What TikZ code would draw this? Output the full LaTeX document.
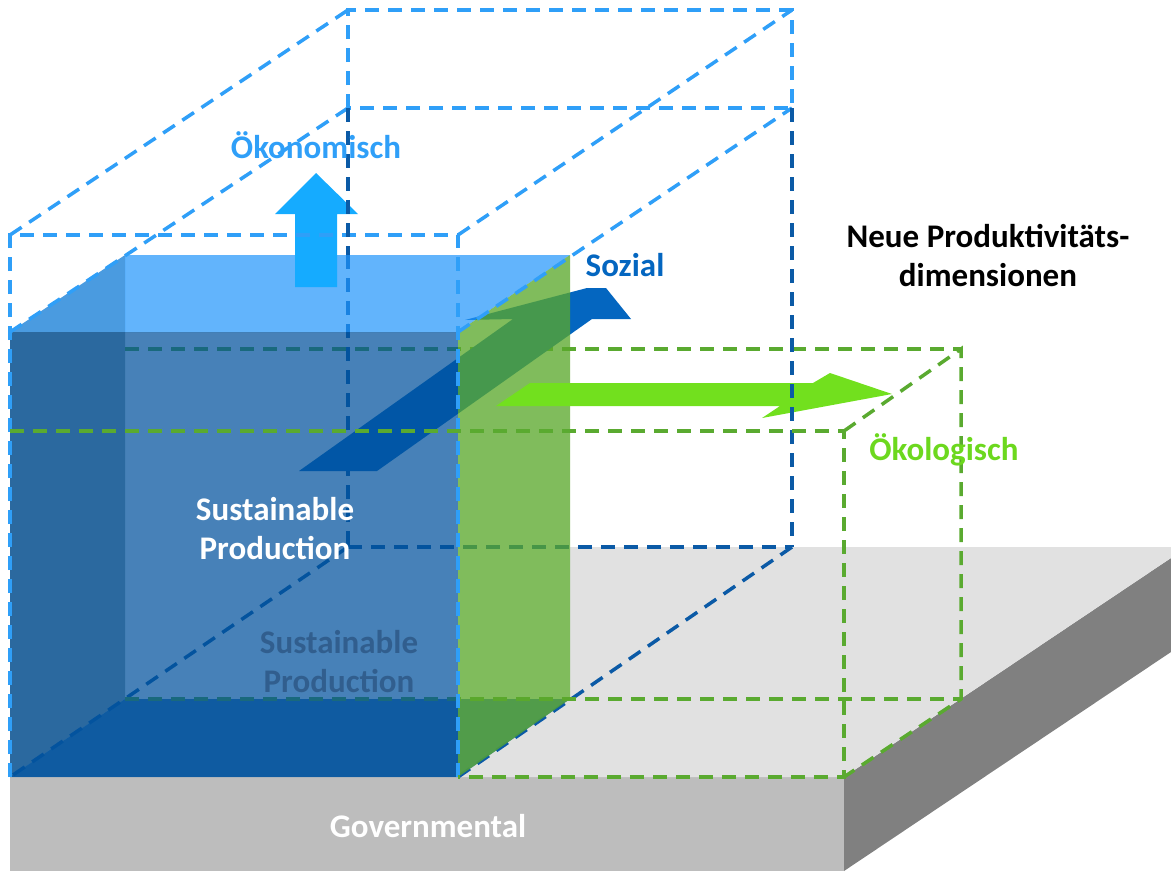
\documentclass[tikz,border=0pt]{standalone}
\usepackage{fontspec}
\setmainfont{Carlito}
\definecolor{econ}{HTML}{2F9FF8}
\definecolor{econ arrow}{HTML}{15ABFF}
\definecolor{social}{HTML}{0466C0}
\definecolor{social dash}{HTML}{0B5AA6}
\definecolor{eco}{HTML}{5AAA30}
\definecolor{eco arrow}{HTML}{72E01E}
\definecolor{eco text}{HTML}{6CD81E}
\definecolor{slab top}{HTML}{E1E1E1}
\definecolor{slab front}{HTML}{BDBDBD}
\definecolor{slab side}{HTML}{808080}
\tikzstyle{dim line}=[line width=3.5pt, dash pattern=on 14pt off 9pt]
\tikzstyle{econ line}=[dim line, draw=econ]
\tikzstyle{social line}=[dim line, draw=social dash]
\tikzstyle{eco line}=[dim line, draw=eco]
\tikzstyle{dim text}=[font=\fontsize{33}{39}\selectfont\bfseries, inner sep=0, anchor=base, align=center]

\begin{document}
\begin{tikzpicture}[x=1pt, y=-1pt]
  \useasboundingbox (0,0) rectangle (1171,871);

  % solid cube
  \coordinate (front_tl) at (10,332);
  \coordinate (front_tr) at (458,332);
  \coordinate (front_br) at (458,777);
  \coordinate (front_bl) at (10,777);
  \coordinate (back_tl) at (125,255);
  \coordinate (back_tr) at (570,255);
  \coordinate (back_br) at (570,699);
  \coordinate (back_bl) at (125,699);
  % dimension boxes
  \coordinate (econ_fl) at (10,235);
  \coordinate (econ_fr) at (458,235);
  \coordinate (econ_bl) at (348,10);
  \coordinate (econ_br) at (792,10);
  \coordinate (social_tl) at (348,108);
  \coordinate (social_tr) at (792,108);
  \coordinate (social_bl) at (348,547);
  \coordinate (social_br) at (792,547);
  \coordinate (social_cut) at (348,255);
  \coordinate (eco_fl) at (10,431);
  \coordinate (eco_fr) at (844,431);
  \coordinate (eco_fb) at (844,777);
  \coordinate (eco_bl) at (125,349);
  \coordinate (eco_br) at (961,349);
  \coordinate (eco_bb) at (961,699);

  % ground slab
  \fill[slab front] (front_bl) -- (eco_fb) -- (844,871) -- (10,871) -- cycle;
  \fill[slab side] (eco_fb) -- (1171,558) -- (1171,652) -- (844,871) -- cycle;
  \fill[slab top] (front_br) -- (eco_fb) -- (1171,558) -- (1171,547)
    -- (570,547) -- (back_br) -- cycle;

  % faces under the front
  \fill[fill={rgb,255:red,74;green,155;blue,224}] (front_tl) -- (back_tl) -- (125,332) -- cycle;
  \fill[fill={rgb,255:red,157;green,168;blue,168}] (front_tl) -- (125,332) -- (back_bl) -- (front_bl) -- cycle;
  \fill[fill={rgb,255:red,54;green,120;blue,177}] (front_bl) -- (back_bl) -- (back_br) -- (front_br) -- cycle;

  % lines behind the cube
  \draw[social line] (social_cut) -- (social_bl);
  \draw[social line] (social_bl) -- (social_br);
  \draw[social line] (social_bl) -- (front_bl);
  \draw[social line] (social_br) -- (front_br);
  \draw[eco line] (eco_bl) -- (eco_br);
  \draw[eco line] (back_bl) -- (eco_bb);

  % Sozial arrow
  \fill[social] (299,471) -- (513,319) -- (465,320) -- (587,288) -- (606,288)
    -- (631,319) -- (592,319) -- (377,471) -- cycle;

  % translucent faces
  \fill[fill={rgb,255:red,31;green,148;blue,251}, fill opacity=0.7]
    (back_tl) -- (back_tr) -- (front_tr) -- (125,332) -- cycle;
  \fill[fill={rgb,255:red,90;green,168;blue,43}, fill opacity=0.77]
    (front_tr) -- (back_tr) -- (back_br) -- (front_br) -- cycle;
  \fill[fill={rgb,255:red,0;green,81;blue,156}, fill opacity=0.72]
    (front_tl) -- (front_tr) -- (front_br) -- (front_bl) -- cycle;

  \node[dim text, text={rgb,255:red,40;green,80;blue,125}, text opacity=0.7] (shadow) at (339,692)
    {Sustainable\\Production};
  \node[dim text, white] (production) at (275,559) {Sustainable\\Production};

  % Ökonomisch and Ökologisch arrows
  \fill[econ arrow] (295,287) -- (295,214) -- (275,214) -- (316,173) -- (358,214)
    -- (337,214) -- (337,287) -- cycle;
  \fill[eco arrow] (496,406) -- (530,383) -- (813,383) -- (830,373) -- (892,394)
    -- (762,418) -- (780,406) -- cycle;

  % lines in front
  \draw[econ line] (social_tl) -- (econ_bl) -- (econ_br) -- (social_tr) -- cycle;
  \draw[econ line] (front_bl) -- (econ_fl) -- (econ_fr) -- (front_br);
  \draw[econ line] (econ_fl) -- (econ_bl);
  \draw[econ line] (econ_fr) -- (econ_br);
  \draw[econ line] (front_tl) -- (social_tl);
  \draw[econ line] (front_tr) -- (social_tr);
  \draw[social line] (social_tl) -- (social_cut);
  \draw[social line] (social_tr) -- (social_br);
  \draw[eco line] (eco_fl) -- (eco_fr) -- (eco_fb) -- (front_br);
  \draw[eco line] (eco_fr) -- (eco_br) -- (eco_bb) -- (eco_fb);

  % labels
  \node[dim text, econ] (econ_label) at (316,158) {Ökonomisch};
  \node[dim text, social] (social_label) at (625,276) {Sozial};
  \node[dim text, eco text] (eco_label) at (944,460) {Ökologisch};
  \node[dim text] (title) at (988,286) {Neue Produktivitäts-\\dimensionen};
  \node[dim text, white] (gov_label) at (428,837) {Governmental};
\end{tikzpicture}
\end{document}
